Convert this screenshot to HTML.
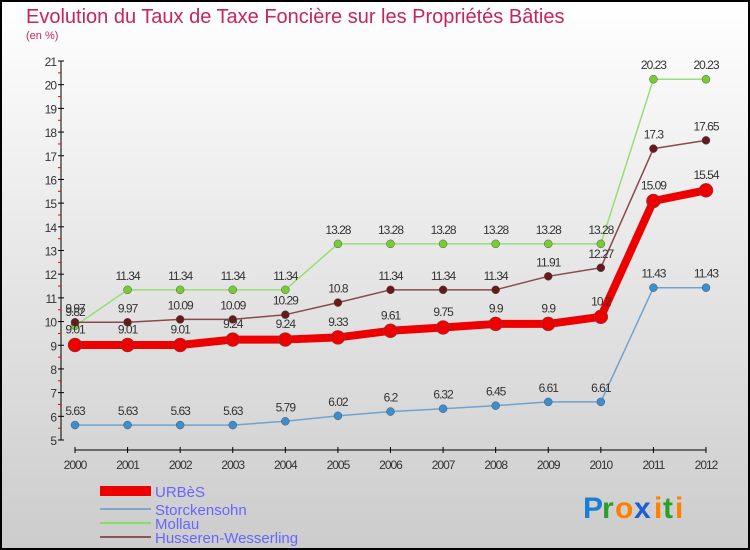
<!DOCTYPE html>
<html><head><meta charset="utf-8"><style>
body{margin:0;padding:0}
#wrap{position:relative;width:750px;height:550px;overflow:hidden}
svg text{font-family:"Liberation Sans",sans-serif}
</style></head><body>
<div id="wrap">
<svg id="chart" width="750" height="550" viewBox="0 0 750 550" xmlns="http://www.w3.org/2000/svg">
<defs><linearGradient id="bg" x1="0" y1="0" x2="0" y2="1"><stop offset="0" stop-color="#ffffff"/><stop offset="1" stop-color="#cccccc"/></linearGradient></defs>
<rect x="1" y="1" width="748" height="548" fill="url(#bg)" stroke="#000" stroke-width="2"/>
<text x="26" y="23" font-size="20" fill="#c8245a">Evolution du Taux de Taxe Foncière sur les Propriétés Bâties</text>
<text x="26" y="39" font-size="11" fill="#c8245a">(en %)</text>
<g id="axes"></g>
<g id="series"></g>
<g>
<rect x="100" y="486" width="51" height="10" fill="#ee0000"/>
<text x="155" y="497" font-size="15" fill="#6666ff">URBèS</text>
<line x1="100" y1="509" x2="151" y2="509" stroke="#7aa8cc" stroke-width="2"/>
<text x="155" y="515" font-size="15" fill="#6666ff">Storckensohn</text>
<line x1="100" y1="523" x2="151" y2="523" stroke="#88dd66" stroke-width="2"/>
<text x="155" y="529" font-size="15" fill="#6666ff">Mollau</text>
<line x1="100" y1="537" x2="151" y2="537" stroke="#8a5555" stroke-width="2"/>
<text x="155" y="543" font-size="15" fill="#6666ff">Husseren-Wesserling</text>
</g>
<g font-size="30" font-weight="bold">
<text x="583" y="518" fill="#1a7fd4">P</text><text x="602" y="518" fill="#2aa02a">r</text><text x="615" y="518" fill="#ff7f00">o</text><text x="634" y="518" fill="#1a5fd4">x</text><text x="654" y="518" fill="#ff7f00">i</text><text x="663" y="518" fill="#2aa02a">t</text><text x="675" y="518" fill="#ff7f00">i</text>
</g>
</svg>
</div>
<script>
const years=["2000","2001","2002","2003","2004","2005","2006","2007","2008","2009","2010","2011","2012"];
const yTicks=[5,6,7,8,9,10,11,12,13,14,15,16,17,18,19,20,21];
const urbes=[9.01,9.01,9.01,9.24,9.24,9.33,9.61,9.75,9.9,9.9,10.2,15.09,15.54];
const storckensohn=[5.63,5.63,5.63,5.63,5.79,6.02,6.2,6.32,6.45,6.61,6.61,11.43,11.43];
const mollau=[9.82,11.34,11.34,11.34,11.34,13.28,13.28,13.28,13.28,13.28,13.28,20.23,20.23];
const husseren=[9.97,9.97,10.09,10.09,10.29,10.8,11.34,11.34,11.34,11.91,12.27,17.3,17.65];
const NS="http://www.w3.org/2000/svg";
function xs(i){return 75+i*(706-75)/(years.length-1);}
function ys(v){return 440-(v-5)*(440-61)/16;}
function mk(t,a,p){const e=document.createElementNS(NS,t);for(const k in a)e.setAttribute(k,a[k]);p.appendChild(e);return e;}
const ax=document.getElementById('axes');
let l=mk('line',{x1:61,y1:61,x2:61,y2:440,stroke:'#000','stroke-width':1},ax);


l=mk('line',{x1:75,y1:450,x2:706,y2:450,stroke:'#000','stroke-width':1},ax);


yTicks.forEach(v=>{const y=ys(v);
 mk('line',{x1:58,y1:y,x2:64,y2:y,stroke:'#000'},ax);
 if(v<21)mk('line',{x1:58,y1:y-11.8,x2:61,y2:y-11.8,stroke:'#e00'},ax);
 const t=mk('text',{x:56,y:y+5,'font-size':12,'text-anchor':'end',fill:'#333','letter-spacing':'-1'},ax);t.textContent=v;
 
 });
years.forEach((yr,i)=>{const x=xs(i);
 mk('line',{x1:x,y1:447,x2:x,y2:453,stroke:'#000'},ax);
 const t=mk('text',{x:x,y:469,'font-size':12,'text-anchor':'middle',fill:'#333','letter-spacing':'-1'},ax);t.textContent=yr;
 
 });
const sg=document.getElementById('series');
function draw(name,vals,color,w,r,dot){
 const g=mk('g',{},sg);
 
 
 mk('polyline',{points:vals.map((v,i)=>xs(i)+','+ys(v)).join(' '),fill:'none',stroke:color,'stroke-width':w,'stroke-linejoin':'round'},g);
 vals.forEach((v,i)=>{const c=mk('circle',{cx:xs(i),cy:ys(v),r:r,fill:dot,stroke:'#555','stroke-width':0.5},g);
  
  
  const t=mk('text',{x:xs(i),y:ys(v)-8-r/2,'font-size':12,'text-anchor':'middle',fill:'#333','letter-spacing':'-1'},g);t.textContent=v;
  
  });
}
draw('storckensohn',storckensohn,'#6fa3cc',1.5,4,'#3a8fd0');
draw('mollau',mollau,'#99dd77',1.5,4,'#77cc33');
draw('husseren',husseren,'#8a4a4a',1.5,4,'#661a1a');
draw('urbes',urbes,'#ee0000',8,7,'#ee0000');
</script>
</body></html>
